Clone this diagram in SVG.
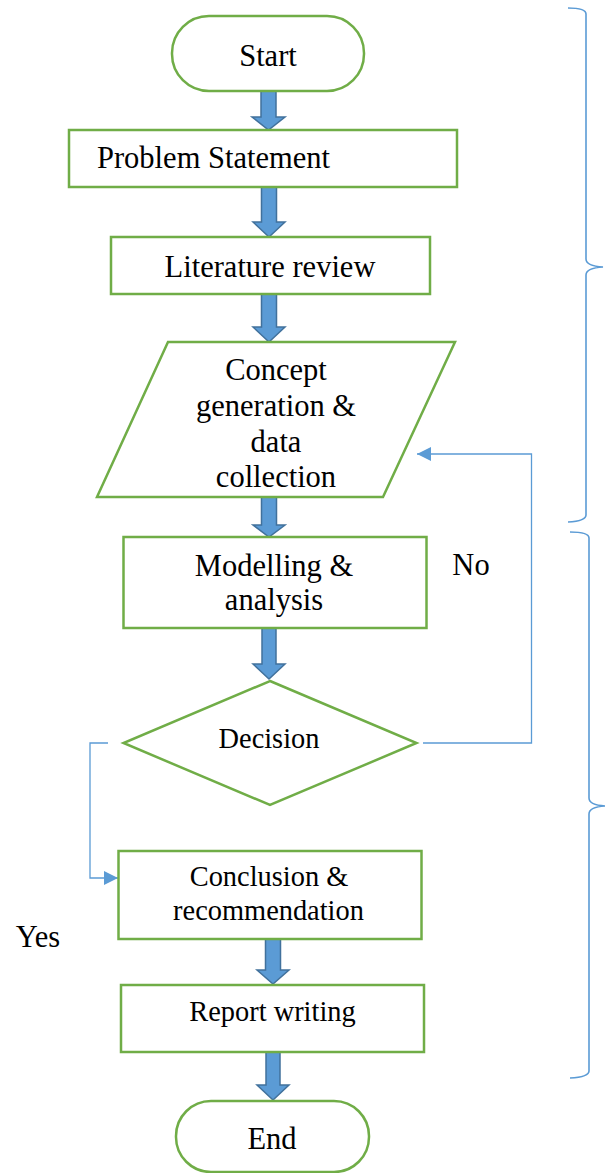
<svg xmlns="http://www.w3.org/2000/svg" width="605" height="1173" viewBox="0 0 605 1173">
<style>
.shape{fill:#fff;stroke:#70AD47;stroke-width:2.5}
.t{font-family:"Liberation Serif","Times New Roman",serif;font-size:30.5px;fill:#000;text-anchor:middle}
.s{font-size:28.4px}
.blk{fill:#5B9BD5;stroke:#41719C;stroke-width:1.5}
.conn{fill:none;stroke:#5B9BD5;stroke-width:1.3}
.brace{fill:none;stroke:#5B9BD5;stroke-width:1.6}
</style>
<defs>
<marker id="ah" viewBox="0 0 10 10" refX="10" refY="5" markerWidth="14" markerHeight="14" markerUnits="userSpaceOnUse" orient="auto">
<path d="M0,0 L10,5 L0,10 Z" fill="#5B9BD5"/>
</marker>
</defs>
<rect width="605" height="1173" fill="#fff"/>
<g id="connectors">
<polygon class="blk" points="261,91 276,91 276,117 285,117 268.5,130 252,117 261,117"/>
<polygon class="blk" points="261.5,187 276.5,187 276.5,222 285,222 269,237 253,222 261.5,222"/>
<polygon class="blk" points="261.5,294 276.5,294 276.5,327 285,327 269,342 253,327 261.5,327"/>
<polygon class="blk" points="261.5,497 276.5,497 276.5,525 285,525 269,537 253,525 261.5,525"/>
<polygon class="blk" points="262,628 276,628 276,664 285,664 269,679 253,664 262,664"/>
<polygon class="blk" points="265.5,939 280.5,939 280.5,970 289,970 273,984 257,970 265.5,970"/>
<polygon class="blk" points="266,1052 280,1052 280,1085 289,1085 273,1100 257,1085 266,1085"/>
<polyline class="conn" points="423,743 531.5,743 531.5,454 417,454" marker-end="url(#ah)"/>
<polyline class="conn" points="108,743 90,743 90,878 118,878" marker-end="url(#ah)"/>
</g>
<g id="start">
<rect class="shape" x="172" y="16" width="192" height="75" rx="37"/>
<text class="t" x="268" y="66">Start</text>
</g>
<g id="problem">
<rect class="shape" x="69" y="130" width="388" height="57"/>
<text class="t" x="97" y="168" style="text-anchor:start">Problem Statement</text>
</g>
<g id="literature">
<rect class="shape" x="111" y="237" width="319" height="57"/>
<text class="t" x="270" y="277">Literature review</text>
</g>
<g id="concept">
<polygon class="shape" points="168,342 455,342 383,497 97,497"/>
<text class="t" x="276" y="380">Concept</text>
<text class="t" x="276" y="416">generation &amp;</text>
<text class="t" x="276" y="452">data</text>
<text class="t" x="276" y="487">collection</text>
</g>
<g id="modelling">
<rect class="shape" x="123.5" y="537" width="303" height="91"/>
<text class="t" x="274" y="576">Modelling &amp;</text>
<text class="t" x="274" y="610">analysis</text>
</g>
<g id="decision">
<polygon class="shape" points="270,681 416.5,743 270,805 123.5,743"/>
<text class="t s" x="269" y="748">Decision</text>
</g>
<g id="conclusion">
<rect class="shape" x="118.5" y="851" width="303" height="88"/>
<text class="t s" x="269" y="886">Conclusion &amp;</text>
<text class="t s" x="268.5" y="920">recommendation</text>
</g>
<g id="report">
<rect class="shape" x="121" y="985" width="303" height="67"/>
<text class="t s" x="272.5" y="1021">Report writing</text>
</g>
<g id="end">
<rect class="shape" x="176" y="1101" width="193" height="71" rx="35"/>
<text class="t" x="272" y="1149">End</text>
</g>
<g id="labels">
<text class="t" x="471" y="575">No</text>
<text class="t" x="38" y="947">Yes</text>
</g>
<g id="braces">
<path class="brace" d="M568,8 Q586,8 586,14 L586,259 Q586,266 603,267 Q586,268 586,275 L586,515 Q586,521 568,522"/>
<path class="brace" d="M570,532 Q589,532 589,538 L589,798 Q589,805 605,806 Q589,807 589,814 L589,1071 Q589,1077 570,1078"/>
</g>
</svg>
